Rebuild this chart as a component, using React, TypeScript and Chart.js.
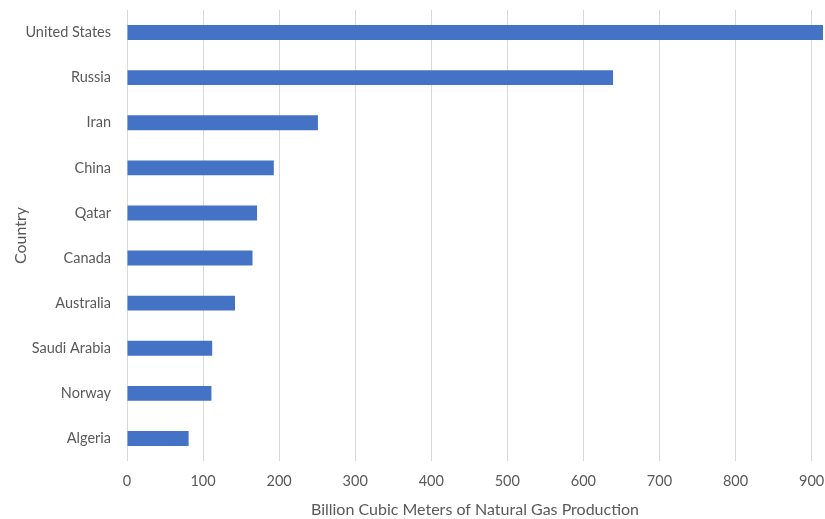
import React, { useEffect, useRef } from "react";
import { Chart, registerables } from "chart.js";

Chart.register(...registerables);

const countries = [
  "United States",
  "Russia",
  "Iran",
  "China",
  "Qatar",
  "Canada",
  "Australia",
  "Saudi Arabia",
  "Norway",
  "Algeria",
];
const production = [915, 639, 251, 193, 171, 165, 142, 112, 111, 81];
const xTicks = [0, 100, 200, 300, 400, 500, 600, 700, 800, 900];
const xTitle = "Billion Cubic Meters of Natural Gas Production";
const yTitle = "Country";

export default function App() {
  const ref = useRef<HTMLCanvasElement | null>(null);
  useEffect(() => {
    if (!ref.current) return;
    const font = "Lato, 'Open Sans', sans-serif";
    const chart = new Chart(ref.current, {
      type: "bar",
      data: {
        labels: countries,
        datasets: [
          {
            data: production,
            backgroundColor: "#4472c4",
            borderWidth: 0,
            barPercentage: 0.66,
            categoryPercentage: 0.5,
          },
        ],
      },
      options: {
        indexAxis: "y",
        animation: false,
        responsive: false,
        maintainAspectRatio: false,
        layout: { padding: { top: 10, right: 2, left: 0, bottom: 0 } },
        plugins: { legend: { display: false }, tooltip: { enabled: false } },
        scales: {
          x: {
            min: 0,
            max: 915,
            afterBuildTicks: (scale: any) => {
              scale.ticks = xTicks.map((v) => ({ value: v }));
            },
            afterFit: (scale: any) => {
              scale.height = 58;
              scale.paddingLeft = 0;
              scale.paddingRight = 0;
            },
            grid: { color: "#d9d9d9", lineWidth: 1, drawTicks: false },
            border: { display: false },
            ticks: {
              color: "#595959",
              font: { family: font, size: 14.5 },
              padding: 12,
            },
            title: {
              display: true,
              text: xTitle,
              color: "#595959",
              font: { family: font, size: 16 },
              padding: { top: 6, bottom: 0 },
            },
          },
          y: {
            afterFit: (scale: any) => {
              scale.width = 127;
              scale.paddingTop = 0;
              scale.paddingBottom = 0;
            },
            grid: { display: false, drawTicks: false },
            border: { display: false },
            ticks: {
              color: "#595959",
              font: { family: font, size: 14.5 },
              padding: 16,
            },
            title: {
              display: true,
              text: yTitle,
              color: "#595959",
              font: { family: font, size: 16 },
              padding: { top: 11, bottom: 0 },
            },
          },
        },
      },
    });
    return () => chart.destroy();
  }, []);
  return (
    <div style={{ position: "fixed", left: 0, top: 0, width: 825, height: 519, background: "#fff" }}>
      <canvas ref={ref} width={825} height={519} style={{ width: 825, height: 519 }} />
    </div>
  );
}
